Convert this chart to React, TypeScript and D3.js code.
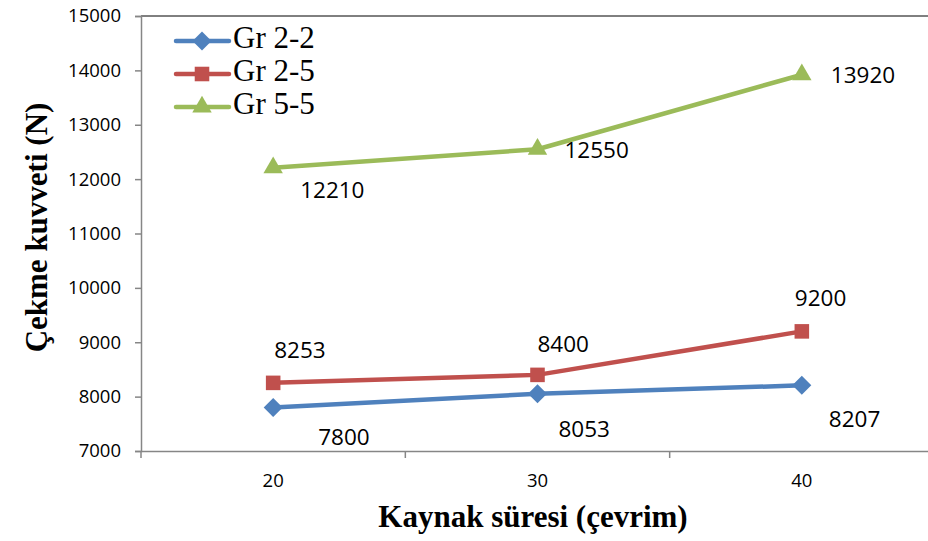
import React, { useEffect, useRef } from 'react';
import * as d3 from 'd3';

// Data
const categories = ['20', '30', '40'];
const gr22 = [7800, 8053, 8207];
const gr25 = [8253, 8400, 9200];
const gr55 = [12210, 12550, 13920];
const yTicks = [7000, 8000, 9000, 10000, 11000, 12000, 13000, 14000, 15000];

const series = [
  { name: 'Gr 2-2', values: gr22, color: '#4F81BD', symbol: d3.symbolDiamond2, size: 230 },
  { name: 'Gr 2-5', values: gr25, color: '#C0504D', symbol: d3.symbolSquare2, size: 270 },
  { name: 'Gr 5-5', values: gr55, color: '#9BBB59', symbol: d3.symbolTriangle2, size: 270 },
];

// label placement (left edge / baseline relative to the point)
const labelOffsets = [
  [[45, 37], [21, 43], [27, 42]],
  [[1, -25], [0, -23], [-7, -25]],
  [[27, 30], [27, 9], [29, 8]],
];

export default function App() {
  const ref = useRef<SVGSVGElement>(null);

  useEffect(() => {
    const svg = d3.select(ref.current);
    const W = 928;
    const H = 541;
    const left = 141;
    const top = 16;
    const bottom = 451;

    const x = d3.scaleBand().domain(categories).range([left, 934]);
    const y = d3.scaleLinear().domain([7000, 15000]).range([bottom, top]);
    const cx = (c) => x(c) + x.bandwidth() / 2;

    svg.attr('width', W).attr('height', H);
    svg.append('rect').attr('width', W).attr('height', H).attr('fill', '#fff');

    // top border
    svg
      .append('line')
      .attr('x1', left)
      .attr('x2', W)
      .attr('y1', top)
      .attr('y2', top)
      .attr('stroke', '#000')
      .attr('stroke-width', 1);

    // Y axis
    const yAxis = svg
      .append('g')
      .attr('transform', `translate(${left},0)`)
      .call(d3.axisLeft(y).tickValues(yTicks).tickSize(6).tickPadding(14).tickFormat(d3.format('d')));
    yAxis.select('.domain').attr('stroke', '#868686').attr('stroke-width', 1.5);
    yAxis.selectAll('.tick line').attr('stroke', '#868686').attr('stroke-width', 1.5);
    yAxis
      .selectAll('.tick text')
      .attr('font-family', '"Open Sans"')
      .attr('font-size', 18.5)
      .attr('fill', '#000');

    // X axis
    const xAxis = svg
      .append('g')
      .attr('transform', `translate(0,${bottom})`)
      .call(d3.axisBottom(x).tickSize(0).tickPadding(23));
    xAxis.select('.domain').attr('stroke', '#868686').attr('stroke-width', 1.5);
    xAxis
      .selectAll('.tick text')
      .attr('font-family', '"Open Sans"')
      .attr('font-size', 18.5)
      .attr('fill', '#000');
    // boundary ticks between categories
    xAxis
      .selectAll('line.bound')
      .data(categories)
      .enter()
      .append('line')
      .attr('class', 'bound')
      .attr('x1', (d) => x(d))
      .attr('x2', (d) => x(d))
      .attr('y1', 0)
      .attr('y2', 7)
      .attr('stroke', '#868686')
      .attr('stroke-width', 1.5);

    // Lines
    const line = d3
      .line<number>()
      .x((d, i) => cx(categories[i]))
      .y((d) => y(d));

    series.forEach((s, si) => {
      svg
        .append('path')
        .datum(s.values)
        .attr('d', line)
        .attr('fill', 'none')
        .attr('stroke', s.color)
        .attr('stroke-width', 4.5)
        .attr('stroke-linejoin', 'round')
        .attr('stroke-linecap', 'round');

      svg
        .append('g')
        .selectAll('path')
        .data(s.values)
        .enter()
        .append('path')
        .attr('d', d3.symbol().type(s.symbol).size(s.size))
        .attr('transform', (d, i) => `translate(${cx(categories[i])},${y(d)})`)
        .attr('fill', s.color);

      svg
        .append('g')
        .selectAll('text')
        .data(s.values)
        .enter()
        .append('text')
        .attr('x', (d, i) => cx(categories[i]) + labelOffsets[si][i][0])
        .attr('y', (d, i) => y(d) + labelOffsets[si][i][1])
        .attr('font-family', '"Open Sans"')
        .attr('font-size', 22.5)
        .attr('fill', '#000')
        .text((d) => d);
    });

    // Legend
    const legend = svg.append('g');
    series.forEach((s, i) => {
      const ly = 41 + i * 33;
      legend
        .append('line')
        .attr('x1', 176)
        .attr('x2', 229)
        .attr('y1', ly)
        .attr('y2', ly)
        .attr('stroke', s.color)
        .attr('stroke-width', 4.5)
        .attr('stroke-linecap', 'round');
      legend
        .append('path')
        .attr('d', d3.symbol().type(s.symbol).size(s.size))
        .attr('transform', `translate(202,${ly})`)
        .attr('fill', s.color);
      legend
        .append('text')
        .attr('x', 233)
        .attr('y', ly + 7)
        .attr('font-family', '"Liberation Serif"')
        .attr('font-size', 31)
        .attr('fill', '#000')
        .text(s.name);
    });

    // Axis titles
    svg
      .append('text')
      .attr('transform', `translate(47,${(top + bottom) / 2 - 6}) rotate(-90)`)
      .attr('text-anchor', 'middle')
      .attr('font-family', '"Liberation Serif"')
      .attr('font-weight', 'bold')
      .attr('font-size', 31)
      .attr('fill', '#000')
      .text('Çekme kuvveti (N)');

    svg
      .append('text')
      .attr('x', 533)
      .attr('y', 527)
      .attr('text-anchor', 'middle')
      .attr('font-family', '"Liberation Serif"')
      .attr('font-weight', 'bold')
      .attr('font-size', 31)
      .attr('fill', '#000')
      .text('Kaynak süresi (çevrim)');

    return () => {
      svg.selectAll('*').remove();
    };
  }, []);

  return <svg ref={ref} style={{ position: 'absolute', left: 0, top: 0 }} />;
}
